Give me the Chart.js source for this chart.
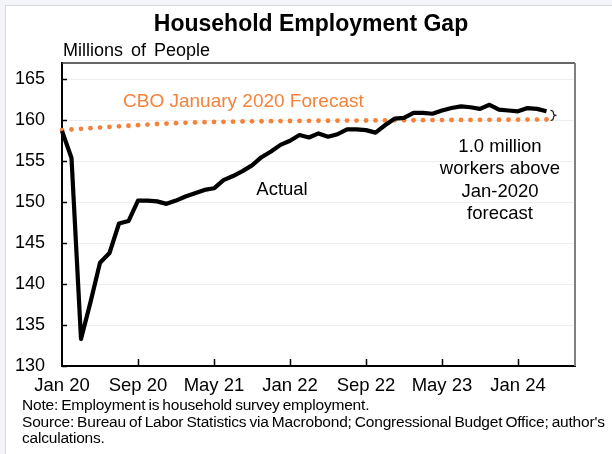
<!DOCTYPE html>
<html>
<head>
<meta charset="utf-8">
<script src="https://cdn.jsdelivr.net/npm/chart.js@4.4.1/dist/chart.umd.min.js"></script>
<style>
html, body { margin: 0; padding: 0; background: #f4f5f9; }
#frame { position: absolute; left: 5px; top: 5px; width: 607px; height: 449px; background: #fff; border-left: 1px solid #d9d9de; border-top: 1px solid #d9d9de; }
canvas { position: absolute; left: 0; top: 0; }
.txt { position: absolute; font-family: 'Liberation Sans', Arial, sans-serif; color: #000; white-space: nowrap; }
#title { left: 5px; width: 612px; text-align: center; top: 12px; font-size: 23px; line-height: 22px; font-weight: bold; }
#units { left: 63px; top: 41px; font-size: 18px; line-height: 18px; word-spacing: 3px; }
#notes { left: 22px; top: 397px; font-size: 15.5px; line-height: 16.7px; letter-spacing: -0.2px; word-spacing: -1px; }
</style>
</head>
<body>
<div id="frame"></div>
<canvas id="gapChart" width="612" height="454"></canvas>
<div class="txt" id="title">Household Employment Gap</div>
<div class="txt" id="units">Millions of People</div>
<div class="txt" id="notes">Note: Employment is household survey employment.<br>Source: Bureau of Labor Statistics via Macrobond; Congressional Budget Office; author's<br>calculations.</div>
<script>
// monthly categories, Jan 2020 through Jul 2024 (axis runs a little past the data)
const months = [
  'Jan 20', 'Feb 20', 'Mar 20', 'Apr 20', 'May 20', 'Jun 20', 'Jul 20', 'Aug 20', 'Sep 20', 'Oct 20', 'Nov 20', 'Dec 20',
  'Jan 21', 'Feb 21', 'Mar 21', 'Apr 21', 'May 21', 'Jun 21', 'Jul 21', 'Aug 21', 'Sep 21', 'Oct 21', 'Nov 21', 'Dec 21',
  'Jan 22', 'Feb 22', 'Mar 22', 'Apr 22', 'May 22', 'Jun 22', 'Jul 22', 'Aug 22', 'Sep 22', 'Oct 22', 'Nov 22', 'Dec 22',
  'Jan 23', 'Feb 23', 'Mar 23', 'Apr 23', 'May 23', 'Jun 23', 'Jul 23', 'Aug 23', 'Sep 23', 'Oct 23', 'Nov 23', 'Dec 23',
  'Jan 24', 'Feb 24', 'Mar 24', 'Apr 24', 'May 24', 'Jun 24', 'Jul 24'
];

// household survey employment, millions
const actual = [
  158.7, 155.4, 133.3, 137.8, 142.6, 143.8, 147.4, 147.7, 150.2, 150.2, 150.1, 149.8,
  150.2, 150.7, 151.1, 151.5, 151.7, 152.7, 153.2, 153.8, 154.5, 155.5, 156.2, 157.0,
  157.5, 158.2, 157.9, 158.4, 158.0, 158.3, 158.9, 158.9, 158.8, 158.5, 159.4, 160.2,
  160.3, 160.9, 160.9, 160.8, 161.2, 161.5, 161.7, 161.6, 161.4, 161.9, 161.3, 161.2,
  161.1, 161.5, 161.4, 161.1
];

// CBO January 2020 projection, millions
const cboForecast = [
  158.80, 158.88, 158.96, 159.04, 159.12, 159.19, 159.27, 159.34, 159.41, 159.48, 159.55, 159.60,
  159.65, 159.70, 159.74, 159.77, 159.80, 159.82, 159.84, 159.86, 159.88, 159.89, 159.90, 159.91,
  159.92, 159.93, 159.94, 159.95, 159.95, 159.96, 159.97, 159.97, 159.98, 159.99, 159.99, 160.00,
  160.01, 160.01, 160.02, 160.03, 160.03, 160.04, 160.05, 160.05, 160.06, 160.06, 160.07, 160.07,
  160.08, 160.09, 160.09, 160.10
];

const xTickLabels = ['Jan 20', 'Sep 20', 'May 21', 'Jan 22', 'Sep 22', 'May 23', 'Jan 24'];
const yTicks = [130, 135, 140, 145, 150, 155, 160, 165];

const FONT = "'Liberation Sans', Arial, sans-serif";
const ORANGE = '#f4823a';

// frame, inside tick marks and the text notes on the plot
const chartDecor = {
  id: 'chartDecor',
  afterDatasetsDraw(chart) {
    const { ctx, chartArea: a, scales: { x, y } } = chart;
    ctx.save();

    ctx.strokeStyle = '#333';
    ctx.lineWidth = 1.5;
    ctx.beginPath();
    ctx.moveTo(a.left, a.top);
    ctx.lineTo(a.right, a.top);
    ctx.stroke();
    ctx.strokeStyle = '#808080';
    ctx.lineWidth = 2;
    ctx.beginPath();
    ctx.moveTo(a.right, a.top);
    ctx.lineTo(a.right, a.bottom);
    ctx.stroke();

    ctx.strokeStyle = '#000';
    ctx.lineWidth = 1.5;
    ctx.beginPath();
    yTicks.forEach(v => {
      const py = Math.round(y.getPixelForValue(v)) + 0.5;
      ctx.moveTo(a.left, py);
      ctx.lineTo(a.left + 5, py);
    });
    xTickLabels.forEach(lbl => {
      const i = months.indexOf(lbl);
      if (i === 0) return;
      const px = Math.round(x.getPixelForValue(i)) + 0.5;
      ctx.moveTo(px, a.bottom);
      ctx.lineTo(px, a.bottom - 7);
    });
    ctx.stroke();

    ctx.textBaseline = 'middle';
    ctx.font = '19px ' + FONT;
    ctx.fillStyle = ORANGE;
    ctx.textAlign = 'left';
    ctx.fillText('CBO January 2020 Forecast', 123, 102);

    ctx.fillStyle = '#000';
    ctx.font = '18.5px ' + FONT;
    ctx.textAlign = 'center';
    ctx.fillText('Actual', 282, 190);
    ['1.0 million', 'workers above', 'Jan-2020', 'forecast'].forEach((t, k) => {
      ctx.fillText(t, 500, 147 + k * 22.3);
    });

    // brace spanning the gap at the last month
    const last = actual.length - 1;
    const bx = x.getPixelForValue(last) + 4;
    const y1 = y.getPixelForValue(actual[last]) - 1;
    const y2 = y.getPixelForValue(cboForecast[last]) + 1;
    const ym = (y1 + y2) / 2;
    ctx.strokeStyle = '#222';
    ctx.lineWidth = 1.2;
    ctx.beginPath();
    ctx.moveTo(bx, y1);
    ctx.quadraticCurveTo(bx + 3, y1, bx + 3, y1 + 3);
    ctx.lineTo(bx + 3, ym - 2);
    ctx.quadraticCurveTo(bx + 3, ym, bx + 6, ym);
    ctx.quadraticCurveTo(bx + 3, ym, bx + 3, ym + 2);
    ctx.lineTo(bx + 3, y2 - 3);
    ctx.quadraticCurveTo(bx + 3, y2, bx, y2);
    ctx.stroke();

    ctx.restore();
  }
};

new Chart(document.getElementById('gapChart'), {
  type: 'line',
  data: {
    labels: months,
    datasets: [
      {
        label: 'Actual',
        data: actual,
        borderColor: '#000',
        borderWidth: 4.2,
        borderJoinStyle: 'round',
        pointRadius: 0,
        tension: 0,
        fill: false
      },
      {
        label: 'CBO January 2020 Forecast',
        data: cboForecast,
        showLine: false,
        pointRadius: 2.4,
        pointBorderWidth: 0,
        pointBackgroundColor: ORANGE,
        borderColor: ORANGE
      }
    ]
  },
  options: {
    responsive: false,
    animation: false,
    layout: { padding: { left: 0, top: 63, right: 37, bottom: 0 } },
    plugins: {
      legend: { display: false },
      tooltip: { enabled: false }
    },
    scales: {
      x: {
        type: 'category',
        offset: false,
        afterFit: s => { s.height = 88; },
        grid: { display: false },
        border: { display: true, color: '#000', width: 2 },
        ticks: {
          autoSkip: false,
          maxRotation: 0,
          padding: 1,
          color: '#000',
          font: { family: FONT, size: 18.5 },
          callback: (v, i) => xTickLabels.includes(months[i]) ? months[i] : null
        }
      },
      y: {
        min: 130,
        max: 167,
        afterFit: s => { s.width = 62; },
        afterBuildTicks: s => { s.ticks = yTicks.map(v => ({ value: v })); },
        grid: { color: '#ededed', lineWidth: 1, drawTicks: false },
        border: { display: true, color: '#000', width: 2 },
        ticks: {
          padding: 17,
          color: '#000',
          font: { family: FONT, size: 18 }
        }
      }
    }
  },
  plugins: [chartDecor]
});
</script>
</body>
</html>
